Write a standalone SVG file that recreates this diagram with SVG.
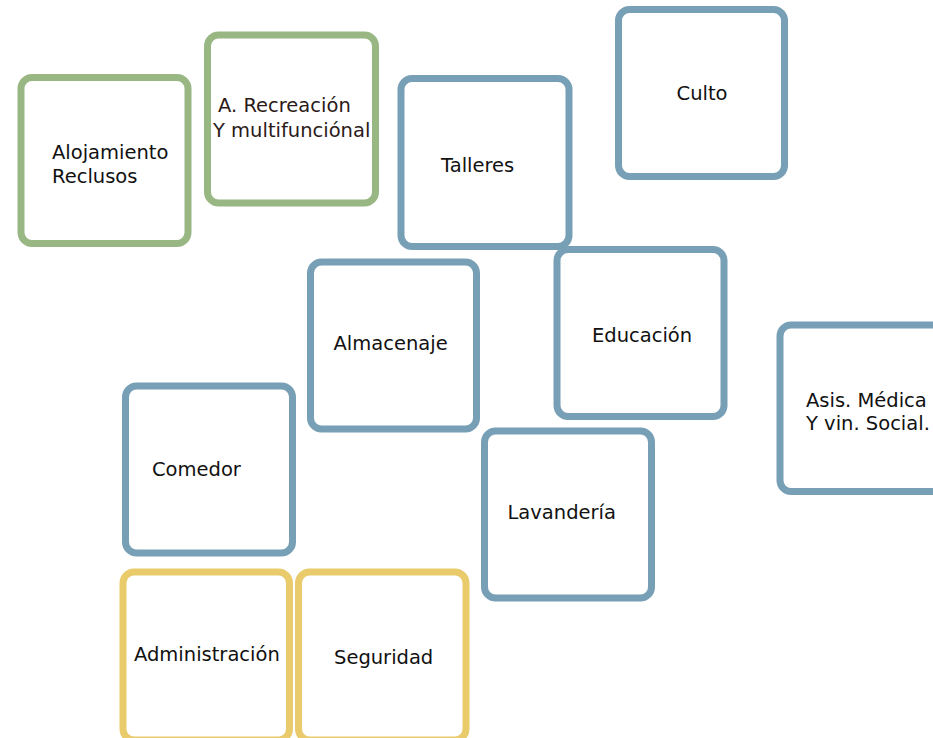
<svg xmlns="http://www.w3.org/2000/svg" width="933" height="738" viewBox="0 0 933 738">
<style>
rect{fill:#fff;stroke-width:7}
.g{stroke:#98B783}
.b{stroke:#779FB5}
.y{stroke:#E9CB6B}
text{font-family:"DejaVu Sans",Verdana,sans-serif;font-size:19.5px;fill:#111}
.br{fill:#2B1A17}
</style>
<rect width="933" height="738" fill="#fff" stroke="none"/>
<g id="connectors"></g>
<g id="n-alojamiento"><rect class="g" x="21" y="77.5" width="167" height="166" rx="11"/><text x="52" y="159">Alojamiento</text><text x="52" y="183">Reclusos</text></g>
<g id="n-recreacion"><rect class="g" x="207.5" y="35" width="168" height="168" rx="11"/><text class="br" x="218" y="112">A. Recreación</text><text class="br" x="213" y="137">Y multifunciónal</text></g>
<g id="n-talleres"><rect class="b" x="401" y="78.5" width="168" height="168" rx="11"/><text x="441" y="171.5">Talleres</text></g>
<g id="n-culto"><rect class="b" x="618.5" y="9.5" width="166" height="167" rx="11"/><text x="702" y="100" text-anchor="middle">Culto</text></g>
<g id="n-almacenaje"><rect class="b" x="310.5" y="262" width="166" height="167" rx="11"/><text x="333.5" y="350">Almacenaje</text></g>
<g id="n-educacion"><rect class="b" x="557" y="249.5" width="167" height="167" rx="11"/><text x="592" y="341.5">Educación</text></g>
<g id="n-asis"><rect class="b" x="780" y="325" width="167" height="166.5" rx="11"/><text x="806" y="407">Asis. Médica</text><text x="806" y="430">Y vin. Social.</text></g>
<g id="n-comedor"><rect class="b" x="125.5" y="386" width="167" height="167" rx="11"/><text x="152" y="476">Comedor</text></g>
<g id="n-lavanderia"><rect class="b" x="484.5" y="431" width="167" height="167" rx="11"/><text x="507.5" y="519">Lavandería</text></g>
<g id="n-administracion"><rect class="y" x="123" y="572" width="166.5" height="168" rx="11"/><text x="134" y="661">Administración</text></g>
<g id="n-seguridad"><rect class="y" x="298.5" y="572" width="167.5" height="168" rx="11"/><text x="334" y="664">Seguridad</text></g>
</svg>
